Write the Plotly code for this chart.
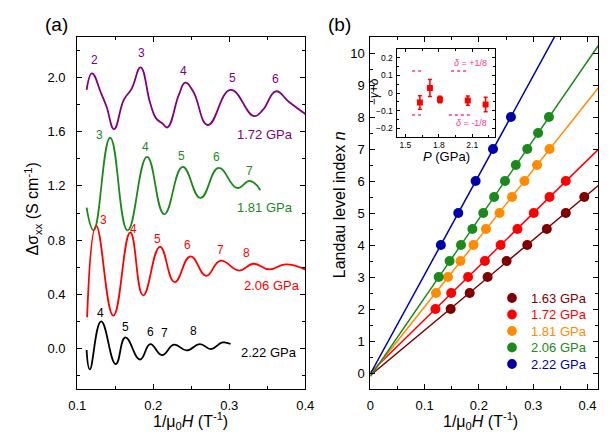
import numpy as np
import plotly.graph_objects as go

FONT = "Liberation Sans, Arial, sans-serif"

# ---------------- Panel (a): oscillatory conductivity ----------------
invH_172 = [0.1124, 0.1195, 0.1315, 0.1387, 0.1485, 0.1613, 0.1719, 0.1834, 0.1961, 0.2038,
            0.2123, 0.2187, 0.2337, 0.2421, 0.2528, 0.2720, 0.3017, 0.3323, 0.3442, 0.3613,
            0.3783, 0.4009]
dsig_172 = [1.909, 2.032, 1.884, 1.785, 1.620, 1.835, 1.921, 2.076, 1.810, 1.699,
            1.661, 1.632, 1.872, 1.963, 1.896, 1.650, 1.909, 1.716, 1.761, 1.899,
            1.822, 1.728]

invH_181 = [0.1124, 0.1217, 0.1434, 0.1664, 0.1919, 0.2145, 0.2388, 0.2621, 0.2860, 0.3102,
            0.3272, 0.3409]
dsig_181 = [1.039, 0.872, 1.556, 0.872, 1.415, 0.992, 1.341, 1.111, 1.333, 1.185,
            1.237, 1.168]

invH_206 = [0.1131, 0.1251, 0.1476, 0.1698, 0.1868, 0.2089, 0.2281, 0.2490, 0.2698, 0.2881,
            0.3132, 0.3315, 0.3528, 0.3740, 0.4010]
dsig_206 = [0.230, 0.905, 0.242, 0.856, 0.392, 0.750, 0.490, 0.680, 0.536, 0.647,
            0.575, 0.625, 0.583, 0.620, 0.580]

invH_222 = [0.1124, 0.1166, 0.1315, 0.1507, 0.1634, 0.1826, 0.1961, 0.2115, 0.2273, 0.2440,
            0.2613, 0.2762, 0.2911, 0.3017]
dsig_222 = [-0.012, -0.155, 0.200, -0.116, 0.081, -0.082, 0.032, -0.050, 0.027, -0.015,
            0.032, -0.005, 0.044, 0.032]

# ---------------- Panel (b): Landau fan diagram ----------------
fan_labels = ["1.63 GPa", "1.72 GPa", "1.81 GPa", "2.06 GPa", "2.22 GPa"]
fan_colors = ["#800000", "#FF0000", "#FF8C00", "#1A8A1A", "#0000A8"]
fan_invH = [
    [0.148, 0.183, 0.216, 0.251, 0.289, 0.325, 0.360, 0.394],
    [0.120, 0.149, 0.180, 0.211, 0.240, 0.271, 0.301, 0.330, 0.360],
    [0.121, 0.143, 0.166, 0.190, 0.213, 0.238, 0.261, 0.284, 0.307, 0.330],
    [0.126, 0.146, 0.167, 0.188, 0.208, 0.228, 0.248, 0.268, 0.289, 0.309, 0.329],
    [0.130, 0.162, 0.194, 0.226, 0.259],
]
fan_n = [
    [2, 2.5, 3, 3.5, 4, 4.5, 5, 5.5],
    [2, 2.5, 3, 3.5, 4, 4.5, 5, 5.5, 6],
    [2.5, 3, 3.5, 4, 4.5, 5, 5.5, 6, 6.5, 7],
    [3, 3.5, 4, 4.5, 5, 5.5, 6, 6.5, 7, 7.5, 8],
    [4, 5, 6, 7, 8],
]

# ---------------- Inset: intercept vs pressure ----------------
P_inset = [1.63, 1.72, 1.81, 2.06, 2.22]
phase_inset = [-0.054, 0.028, -0.037, -0.043, -0.065]
phase_err = [0.039, 0.048, 0.019, 0.026, 0.041]
P_err = [0.02, 0.02, 0.02, 0.02, 0.02]
delta_levels = [0.125, -0.125]
delta_segments = [[[1.56, 1.64], [1.91, 2.06]], [[1.56, 1.64], [1.89, 2.10]]]

fig = go.Figure()

# panel (a) curves
for xs, ys, col in [(invH_172, dsig_172, "#800080"), (invH_181, dsig_181, "#1A8A1A"),
                    (invH_206, dsig_206, "#FF0000"), (invH_222, dsig_222, "#000000")]:
    fig.add_trace(go.Scatter(x=xs, y=ys, mode="lines", line=dict(color=col, width=1.8, shape="spline", smoothing=1.3),
                             showlegend=False, xaxis="x", yaxis="y", hoverinfo="skip"))

# panel (b) fit lines
for xs, ns, col in zip(fan_invH, fan_n, fan_colors):
    slope, icpt = np.polyfit(xs, ns, 1)
    xl = np.array([0.0, 0.42])
    fig.add_trace(go.Scatter(x=xl, y=slope * xl + icpt, mode="lines", line=dict(color=col, width=1.5),
                             showlegend=False, xaxis="x2", yaxis="y2", hoverinfo="skip"))
# panel (b) points
for xs, ns, col, lab in zip(fan_invH, fan_n, fan_colors, fan_labels):
    fig.add_trace(go.Scatter(x=xs, y=ns, mode="markers", marker=dict(color=col, size=10, line=dict(width=0)),
                             name=lab, showlegend=False, xaxis="x2", yaxis="y2"))

# inset dotted delta lines
for lvl, segs in zip(delta_levels, delta_segments):
    for seg in segs:
        fig.add_trace(go.Scatter(x=seg, y=[lvl, lvl], mode="lines", line=dict(color="#FF3399", width=1.5, dash="dot"),
                                 showlegend=False, xaxis="x3", yaxis="y3", hoverinfo="skip"))
fig.add_trace(go.Scatter(x=P_inset, y=phase_inset, mode="markers",
                         marker=dict(color="#FF0000", size=6, symbol="square"),
                         error_y=dict(type="data", array=phase_err, color="#FF0000", thickness=1.5, width=2),
                         error_x=dict(type="data", array=P_err, color="#FF0000", thickness=1.5, width=0),
                         showlegend=False, xaxis="x3", yaxis="y3"))

W, H = 612, 438
def px(x): return x / W
def py(y): return 1 - y / H

base = dict(showline=True, linecolor="black", linewidth=1, mirror="ticks", ticks="inside",
            ticklen=5, tickwidth=1, tickcolor="black", showgrid=False, zeroline=False,
            tickfont=dict(family=FONT, size=13, color="black"))

fig.update_layout(
    width=W, height=H, margin=dict(l=0, r=0, t=0, b=0),
    paper_bgcolor="white", plot_bgcolor="rgba(0,0,0,0)",
    font=dict(family=FONT, color="black"),
    showlegend=False,
    xaxis=dict(base, domain=[px(62), px(297)], range=[0.1, 0.4], tick0=0.1, dtick=0.1, tickformat=".1f",
               minor=dict(ticks="inside", ticklen=3, dtick=0.05, tickcolor="black"), anchor="y",
               ticklabelstandoff=4),
    yaxis=dict(base, domain=[py(381), py(29)], range=[-0.3, 2.3], tick0=0, dtick=0.4, tickformat=".1f",
               minor=dict(ticks="inside", ticklen=3, dtick=0.2, tickcolor="black"), anchor="x",
               ticklabelstandoff=8),
    xaxis2=dict(base, domain=[px(364), px(599)], range=[0, 0.42], tick0=0, dtick=0.1,
                minor=dict(ticks="inside", ticklen=3, dtick=0.05, tickcolor="black"), anchor="y2",
                ticklabelstandoff=4),
    yaxis2=dict(base, domain=[py(381), py(29)], range=[-0.5, 10.5], tick0=0, dtick=1,
                minor=dict(ticks="inside", ticklen=3, dtick=0.5, tickcolor="black"), anchor="x2",
                ticklabelstandoff=2),
    xaxis3=dict(base, domain=[px(391), px(492)], range=[1.42, 2.3], tick0=1.5, dtick=0.3, tickformat=".1f",
                ticklen=3, tickfont=dict(family=FONT, size=8.5, color="black"),
                minor=dict(ticks="inside", ticklen=2, dtick=0.15, tickcolor="black"), anchor="y3",
                ticklabelstandoff=0),
    yaxis3=dict(base, domain=[py(129), py(41)], range=[-0.25, 0.25], tick0=0, dtick=0.1,
                ticklen=3, tickfont=dict(family=FONT, size=8.5, color="black"),
                minor=dict(ticks="inside", ticklen=2, dtick=0.05, tickcolor="black"), anchor="x3",
                ticklabelstandoff=1),
)

ann = []
shapes = []
def A(text, x, y, xref, yref, size, color="black", angle=0, xanchor="center"):
    ann.append(dict(text=text, x=x, y=y, xref=xref, yref=yref, showarrow=False,
                    font=dict(family=FONT, size=size, color=color), textangle=angle,
                    xanchor=xanchor, yanchor="middle"))

# manual legend for panel (b)
for i, (lab, col) in enumerate(zip(fan_labels, fan_colors)):
    cy = 290 + i * 16.5
    shapes.append(dict(type="circle", xref="paper", yref="paper", x0=px(505), x1=px(515),
                       y0=py(cy + 5), y1=py(cy - 5), fillcolor=col, line=dict(width=0)))
    A(lab, px(528), py(cy), "paper", "paper", 13, col, xanchor="left")

# peak index labels, panel (a)
for t, x, y in [("2", 0.123, 2.131), ("3", 0.1846, 2.18), ("4", 0.240, 2.052), ("5", 0.304, 2.0), ("6", 0.3613, 1.987)]:
    A(t, x, y, "x", "y", 12, "#800080")
A("1.72 GPa", 0.3477, 1.58, "x", "y", 13, "#800080")
for t, x, y in [("3", 0.1294, 1.576), ("4", 0.1897, 1.484), ("5", 0.2366, 1.42), ("6", 0.2835, 1.41), ("7", 0.326, 1.311)]:
    A(t, x, y, "x", "y", 12, "#1A8A1A")
A("1.81 GPa", 0.3477, 1.037, "x", "y", 13, "#1A8A1A")
for t, x, y in [("3", 0.1345, 0.946), ("4", 0.174, 0.879), ("5", 0.206, 0.805), ("6", 0.2452, 0.761), ("7", 0.289, 0.728), ("8", 0.323, 0.704)]:
    A(t, x, y, "x", "y", 12, "#FF0000")
A("2.06 GPa", 0.3566, 0.461, "x", "y", 13, "#FF0000")
for t, x, y in [("4", 0.1306, 0.259), ("5", 0.1642, 0.156), ("6", 0.1966, 0.119), ("7", 0.2153, 0.111), ("8", 0.2528, 0.126)]:
    A(t, x, y, "x", "y", 12, "black")
A("2.22 GPa", 0.3528, -0.03, "x", "y", 13, "black")

# inset delta labels
A("<i>δ</i> = +1/8", 2.082, 0.171, "x3", "y3", 9, "#FF3399")
A("<i>δ</i> = -1/8", 2.096, -0.173, "x3", "y3", 9, "#FF3399")

# titles
A("(a)", px(41), py(16), "paper", "paper", 19)
A("(b)", px(332), py(17), "paper", "paper", 19)
A("1/μ<sub>0</sub><i>H</i> (T<sup>-1</sup>)", px(179), py(413), "paper", "paper", 16)
A("1/μ<sub>0</sub><i>H</i> (T<sup>-1</sup>)", px(478), py(413), "paper", "paper", 16)
A("Δσ<sub>xx</sub> (S cm<sup>-1</sup>)", px(16), py(201), "paper", "paper", 16, angle=-90)
A("Landau level index <i>n</i>", px(333), py(197), "paper", "paper", 16, angle=-90)
A("<i>P</i> (GPa)", px(443), py(149), "paper", "paper", 13)
A("−<i>γ</i>+<i>δ</i>", px(368), py(84), "paper", "paper", 12, angle=-90)

fig.update_layout(annotations=ann, shapes=shapes)
fig.write_html("out.html")
